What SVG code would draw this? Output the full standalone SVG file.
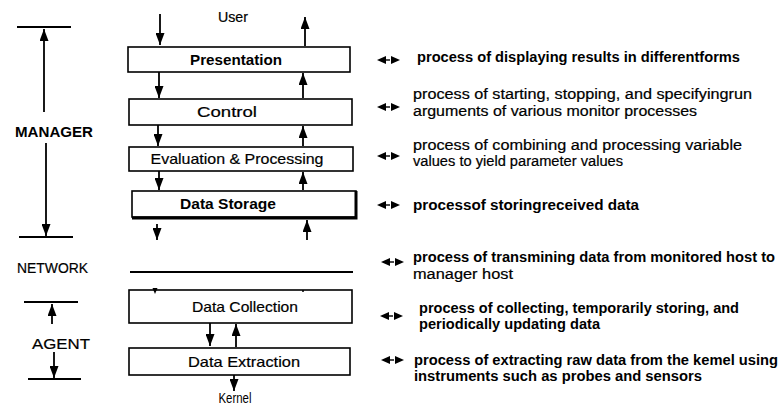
<svg xmlns="http://www.w3.org/2000/svg" width="782" height="405" viewBox="0 0 782 405">
<defs>
<marker id="ah" viewBox="0 0 12 9" refX="12" refY="4.5" markerWidth="12" markerHeight="9" markerUnits="userSpaceOnUse" orient="auto">
<path d="M0,0 L12,4.5 L0,9 z" fill="#000"/>
</marker>
<g id="dbl">
<path d="M0,0 L9,-4 L9,4 z" fill="#000"/>
<path d="M8,0 L13,0" stroke="#000" stroke-width="1.4"/>
<path d="M23,0 L14,-4 L14,4 z" fill="#000"/>
</g>
</defs>
<style>
.box{fill:#fff;stroke:#000;stroke-width:1.6}
.ln{stroke:#000;stroke-width:1.8;fill:none}
.ar{stroke:#000;stroke-width:1.8;fill:none;marker-end:url(#ah)}
.t{font-family:"Liberation Sans",Arial,sans-serif;font-size:15px;fill:#000}
.b{font-weight:bold}
.m{stroke:#000;stroke-width:0.2}
.c{text-anchor:middle}
.d{font-family:"Liberation Sans",Arial,sans-serif;font-size:14px;fill:#000}
</style>
<rect width="782" height="405" fill="#fff"/>

<g id="labels-left">
<text class="t b" x="15" y="137" textLength="78" lengthAdjust="spacingAndGlyphs">MANAGER</text>
<text class="t m" x="17" y="273" textLength="71" lengthAdjust="spacingAndGlyphs">NETWORK</text>
<text class="t m" x="32" y="349" textLength="58" lengthAdjust="spacingAndGlyphs">AGENT</text>
<path class="ln" d="M17,27 H71 M19,237 H73 M24,302 H78 M28,379 H81" stroke-width="2.2"/>
<path class="ar" d="M44,112 V29"/>
<path class="ar" d="M46,143 V236"/>
<path class="ar" d="M52,324 V304"/>
<path class="ar" d="M54,352 V378"/>
</g>

<g id="n-presentation"><rect class="box" x="128" y="47" width="222" height="25"/><text class="t b c" x="236" y="65" textLength="92" lengthAdjust="spacingAndGlyphs">Presentation</text></g>
<g id="n-control"><rect class="box" x="129" y="99" width="223" height="26"/><text class="t m c" x="227" y="117" textLength="60" lengthAdjust="spacingAndGlyphs">Control</text></g>
<g id="n-eval"><rect class="box" x="129" y="147" width="224" height="24"/><text class="t m c" x="237" y="164" textLength="173" lengthAdjust="spacingAndGlyphs">Evaluation &amp; Processing</text></g>
<g id="n-storage"><rect class="box" x="132" y="191" width="224" height="26"/><path d="M356,191 V218 H132" stroke="#000" stroke-width="3" fill="none"/><text class="t b c" x="228" y="209" textLength="96" lengthAdjust="spacingAndGlyphs">Data Storage</text></g>
<g id="n-network"><path class="ln" d="M130,272 H353" stroke-width="1.5"/></g>
<g id="n-collection"><rect class="box" x="129" y="290" width="223" height="33"/><text class="t m c" x="245" y="312" textLength="106" lengthAdjust="spacingAndGlyphs">Data Collection</text></g>
<g id="n-extraction"><rect class="box" x="129" y="348" width="221" height="27"/><text class="t m c" x="244" y="367" textLength="112" lengthAdjust="spacingAndGlyphs">Data Extraction</text></g>
<g id="n-user"><text class="t m c" x="233" y="22" textLength="30" lengthAdjust="spacingAndGlyphs">User</text></g>
<g id="n-kernel"><text class="t c" x="235" y="403" font-size="13.5" textLength="33" lengthAdjust="spacingAndGlyphs">Kernel</text></g>

<g id="connectors">
<path class="ar" d="M160,14 V45"/>
<path class="ar" d="M305,46 V17"/>
<path class="ar" d="M159,72 V98"/>
<path class="ar" d="M303,98 V73"/>
<path class="ar" d="M158,125 V146"/>
<path class="ar" d="M303,146 V126"/>
<path class="ar" d="M159,171 V190"/>
<path class="ar" d="M303,190 V172"/>
<path class="ar" d="M157,224 V240"/>
<path class="ar" d="M307,240 V220"/>
<path d="M152.5,288 L157.5,288 L155,294 z" fill="#000"/>
<circle cx="303" cy="291" r="1" fill="#000"/>
<path class="ar" d="M210,323 V346"/>
<path class="ar" d="M236,347 V324"/>
<path class="ar" d="M234,375 V391"/>
<use href="#dbl" x="377" y="60"/>
<use href="#dbl" x="377" y="107"/>
<use href="#dbl" x="377" y="156"/>
<use href="#dbl" x="377" y="205"/>
<use href="#dbl" x="381" y="262"/>
<use href="#dbl" x="380" y="316"/>
<use href="#dbl" x="381" y="360"/>
</g>

<g id="descriptions">
<text class="d b" x="417" y="62" textLength="323" lengthAdjust="spacingAndGlyphs">process of displaying results in differentforms</text>
<text class="d m" x="413" y="99" textLength="339" lengthAdjust="spacingAndGlyphs">process of starting, stopping, and specifyingrun</text>
<text class="d m" x="413" y="116" textLength="284" lengthAdjust="spacingAndGlyphs">arguments of various monitor processes</text>
<text class="d m" x="413" y="150" textLength="329" lengthAdjust="spacingAndGlyphs">process of combining and processing variable</text>
<text class="d m" x="413" y="166" textLength="210" lengthAdjust="spacingAndGlyphs">values to yield parameter values</text>
<text class="d b" x="413" y="210" textLength="226" lengthAdjust="spacingAndGlyphs">processof storingreceived data</text>
<text class="d b" x="413" y="262" textLength="362" lengthAdjust="spacingAndGlyphs">process of transmining data from monitored host to</text>
<text class="d m" x="413" y="279" textLength="100" lengthAdjust="spacingAndGlyphs">manager host</text>
<text class="d b" x="419" y="313" textLength="320" lengthAdjust="spacingAndGlyphs">process of collecting, temporarily storing, and</text>
<text class="d b" x="419" y="329" textLength="181" lengthAdjust="spacingAndGlyphs">periodically updating data</text>
<text class="d b" x="414" y="365" textLength="364" lengthAdjust="spacingAndGlyphs">process of extracting raw data from the kemel using</text>
<text class="d b" x="414" y="381" textLength="288" lengthAdjust="spacingAndGlyphs">instruments such as probes and sensors</text>
</g>
</svg>
